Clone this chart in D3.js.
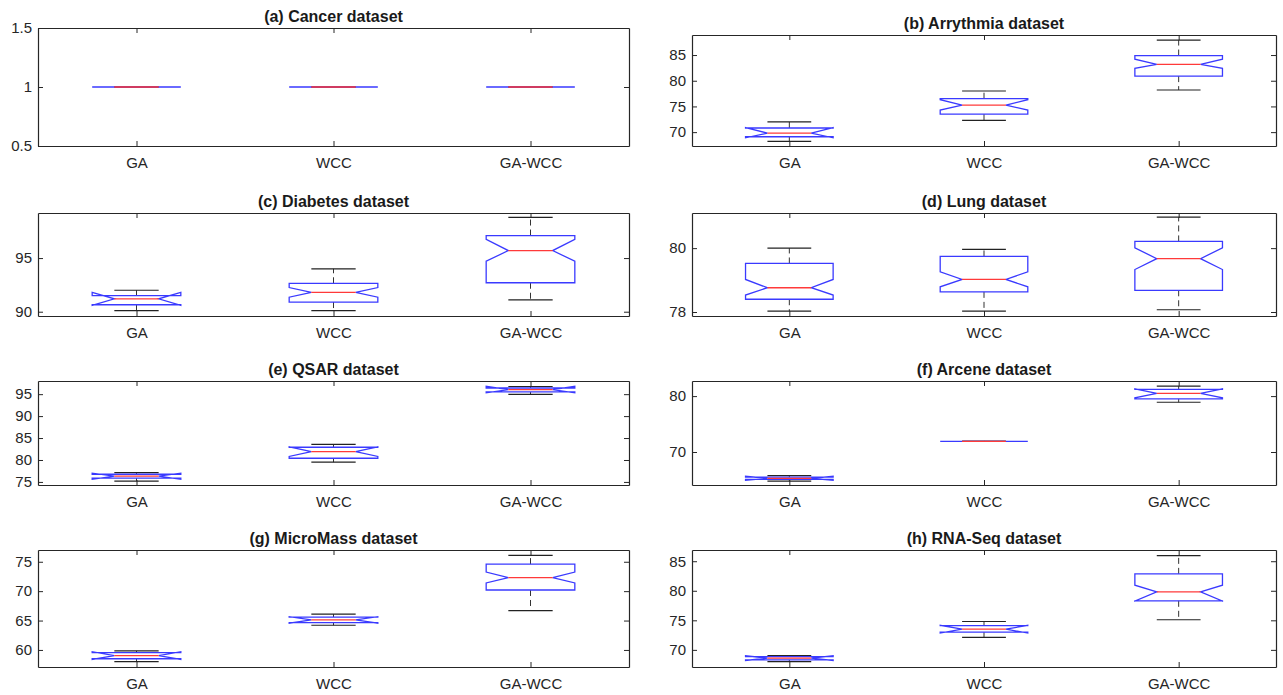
<!DOCTYPE html>
<html>
<head>
<meta charset="utf-8">
<script src="https://cdn.jsdelivr.net/npm/d3@7"></script>
<style>
  body { margin: 0; background: #fff; }
  svg { display: block; }
</style>
</head>
<body>
<svg width="1283" height="695"></svg>
<script>
// Categories on every x axis
var methods = ["GA", "WCC", "GA-WCC"];

// Panel titles
var titles = [
  "(a) Cancer dataset", "(b) Arrythmia dataset",
  "(c) Diabetes dataset", "(d) Lung dataset",
  "(e) QSAR dataset", "(f) Arcene dataset",
  "(g) MicroMass dataset", "(h) RNA-Seq dataset"
];

// Box stats per method: [whiskerLow, q1, notchLow, median, notchHigh, q3, whiskerHigh]
var cancer    = [[1, 1, 1, 1, 1, 1, 1], [1, 1, 1, 1, 1, 1, 1], [1, 1, 1, 1, 1, 1, 1]];
var arrythmia = [[68.2, 69.1, 68.9, 69.8, 70.9, 70.8, 72.0],
                 [72.3, 73.5, 74.3, 75.25, 76.3, 76.5, 78.0],
                 [78.2, 80.9, 82.4, 83.2, 84.2, 84.9, 87.9]];
var diabetes  = [[90.1, 90.65, 90.6, 91.2, 91.8, 91.5, 92.0],
                 [90.1, 90.9, 91.35, 91.8, 92.25, 92.65, 94.0],
                 [91.1, 92.7, 94.7, 95.7, 96.75, 97.1, 98.8]];
var lung      = [[78.03, 78.4, 78.53, 78.76, 79.02, 79.52, 80.0],
                 [78.03, 78.63, 78.79, 79.02, 79.26, 79.74, 79.96],
                 [78.07, 78.68, 79.33, 79.67, 80.01, 80.21, 80.97]];
var qsar      = [[75.2, 75.85, 75.6, 76.3, 77.0, 76.75, 77.1],
                 [79.5, 80.4, 80.8, 81.9, 83.0, 82.9, 83.55],
                 [94.95, 95.5, 95.3, 96.05, 96.8, 96.4, 96.75]];
var arcene    = [[64.8, 65.1, 64.95, 65.3, 65.65, 65.5, 65.77],
                 [71.9, 71.9, 71.9, 71.9, 71.9, 71.9, 71.9],
                 [78.9, 79.5, 79.7, 80.5, 81.3, 81.2, 81.8]];
var micromass = [[58.0, 58.5, 58.4, 59.05, 59.7, 59.55, 59.84],
                 [64.2, 64.65, 64.55, 65.1, 65.65, 65.6, 66.1],
                 [66.7, 70.2, 71.4, 72.3, 73.25, 74.6, 76.1]];
var rnaseq    = [[68.0, 68.3, 68.2, 68.6, 69.0, 68.86, 69.03],
                 [72.1, 73.0, 72.85, 73.5, 74.15, 74.1, 74.8],
                 [75.1, 78.3, 78.25, 79.8, 80.95, 82.86, 85.96]];

// Y axis limits and tick labels per panel
var yLimits = [[0.5, 1.5], [67.3, 88.9], [89.6, 99.2], [77.875, 81.1],
               [74.3, 98.0], [64.1, 82.7], [57.1, 77.0], [67.1, 86.9]];
var yTicks = [[0.5, 1, 1.5], [70, 75, 80, 85], [90, 95], [78, 80],
              [75, 80, 85, 90, 95], [70, 80], [60, 65, 70, 75], [70, 75, 80, 85]];

var allStats = [cancer, arrythmia, diabetes, lung, qsar, arcene, micromass, rnaseq];

// Layout of the axes boxes
var colLeft = [38, 692], colRight = [629, 1276];
var rowTop = [28, 35, 213, 213, 381, 381, 550, 550];
var rowBottom = [146, 146, 316, 316, 485, 485, 667, 667];

var svg = d3.select("svg");
var axisColor = "#262626";
var font = "'Liberation Sans', Arial, sans-serif";

titles.forEach(function (title, p) {
  var left = colLeft[p % 2], right = colRight[p % 2];
  var top = rowTop[p], bottom = rowBottom[p];

  var x = d3.scaleLinear().domain([0.5, 3.5]).range([left, right]);
  var y = d3.scaleLinear().domain(yLimits[p]).range([bottom, top]);
  var hw = x(1.225) - x(1); // half box width

  var g = svg.append("g");

  // Axes (ticks point inward, like MATLAB)
  var styleAxis = function (sel) {
    sel.selectAll("path, line").attr("stroke", axisColor);
    sel.selectAll("text")
      .attr("fill", axisColor)
      .style("font-family", font)
      .style("font-size", "15px");
  };

  g.append("g").attr("transform", "translate(" + left + ",0)")
    .call(d3.axisLeft(y).tickValues(yTicks[p]).tickFormat(function (d) { return String(d); })
      .tickSizeInner(-5).tickSizeOuter(0).tickPadding(6))
    .call(styleAxis);
  g.append("g").attr("transform", "translate(" + right + ",0)")
    .call(d3.axisRight(y).tickValues(yTicks[p]).tickSizeInner(-5).tickSizeOuter(0).tickFormat(""))
    .call(styleAxis);
  g.append("g").attr("transform", "translate(0," + bottom + ")")
    .call(d3.axisBottom(x).tickValues([1, 2, 3]).tickFormat(function (d) { return methods[d - 1]; })
      .tickSizeInner(-5).tickSizeOuter(0).tickPadding(11))
    .call(styleAxis);
  g.append("g").attr("transform", "translate(0," + top + ")")
    .call(d3.axisTop(x).tickValues([1, 2, 3]).tickSizeInner(-5).tickSizeOuter(0).tickFormat(""))
    .call(styleAxis);
  g.selectAll(".domain").attr("stroke-width", 1.2);

  // Title
  g.append("text")
    .attr("x", (left + right) / 2)
    .attr("y", top - 6)
    .attr("text-anchor", "middle")
    .style("font-family", font)
    .style("font-size", "16px")
    .style("font-weight", "bold")
    .attr("fill", "#1a1a1a")
    .text(title);

  // Boxes
  var boxes = g.selectAll(".box")
    .data(allStats[p])
    .enter()
    .append("g")
    .attr("class", "box");

  // Whiskers (dashed) and caps
  boxes.append("line")
    .attr("x1", function (d, i) { return x(i + 1); })
    .attr("x2", function (d, i) { return x(i + 1); })
    .attr("y1", function (d) { return y(d[5]); })
    .attr("y2", function (d) { return y(d[6]); })
    .attr("stroke", "#333").attr("stroke-width", 1).attr("stroke-dasharray", "6,4");
  boxes.append("line")
    .attr("x1", function (d, i) { return x(i + 1); })
    .attr("x2", function (d, i) { return x(i + 1); })
    .attr("y1", function (d) { return y(d[1]); })
    .attr("y2", function (d) { return y(d[0]); })
    .attr("stroke", "#333").attr("stroke-width", 1).attr("stroke-dasharray", "6,4");
  [0, 6].forEach(function (k) {
    boxes.append("line")
      .attr("x1", function (d, i) { return x(i + 1) - hw / 2; })
      .attr("x2", function (d, i) { return x(i + 1) + hw / 2; })
      .attr("y1", function (d) { return y(d[k]); })
      .attr("y2", function (d) { return y(d[k]); })
      .attr("stroke", "#222").attr("stroke-width", 1.2);
  });

  // Notched box outline
  boxes.append("path")
    .attr("d", function (d, i) {
      var c = x(i + 1);
      var pts = [
        [c - hw, y(d[1])], [c - hw, y(d[2])], [c - hw / 2, y(d[3])], [c - hw, y(d[4])],
        [c - hw, y(d[5])], [c + hw, y(d[5])], [c + hw, y(d[4])], [c + hw / 2, y(d[3])],
        [c + hw, y(d[2])], [c + hw, y(d[1])]
      ];
      return d3.line()(pts) + "Z";
    })
    .attr("fill", "none")
    .attr("stroke", "#3a3aff")
    .attr("stroke-width", 1.3);

  // Median
  boxes.append("line")
    .attr("x1", function (d, i) { return x(i + 1) - hw / 2; })
    .attr("x2", function (d, i) { return x(i + 1) + hw / 2; })
    .attr("y1", function (d) { return y(d[3]); })
    .attr("y2", function (d) { return y(d[3]); })
    .attr("stroke", "#ff3a3a")
    .attr("stroke-width", 1.3);
});
</script>
</body>
</html>
